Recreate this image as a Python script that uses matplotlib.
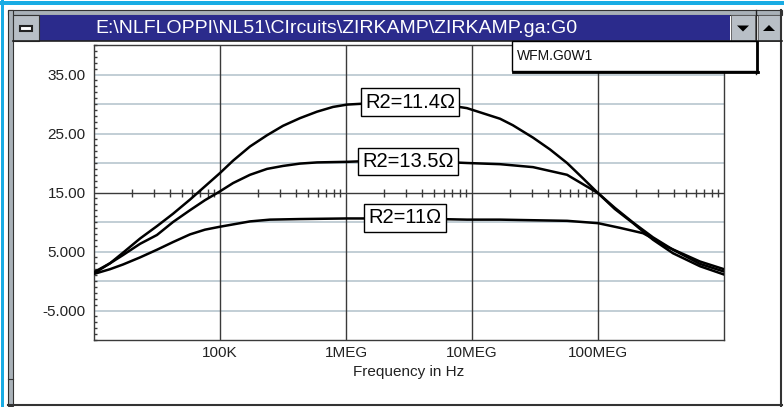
import numpy as np
import matplotlib
matplotlib.use("Agg")
import matplotlib.pyplot as plt
from matplotlib.patches import Rectangle, Polygon
from matplotlib.ticker import FixedLocator, MultipleLocator, NullLocator, FixedFormatter

plt.rcParams['font.family'] = ['Liberation Sans', 'DejaVu Sans']

# ---------------- data ----------------
freq_r2_11_4 = [1.00e4, 1.34e4, 1.70e4, 2.32e4, 3.16e4, 4.24e4, 5.78e4, 6.94e4,
                1.00e5, 1.27e5, 1.73e5, 2.36e5, 3.16e5, 4.31e5, 5.89e5, 7.88e5,
                1.02e6, 1.79e6, 3.16e6, 5.57e6, 9.12e6, 1.67e7, 2.11e7, 3.05e7,
                4.16e7, 5.68e7, 7.60e7, 1.00e8, 1.36e8, 1.90e8, 2.73e8, 3.94e8,
                6.45e8, 1.00e9]
gain_r2_11_4 = [1.3, 3.0, 4.8, 7.2, 9.3, 11.4, 13.8, 15.3,
                18.3, 20.4, 22.8, 24.7, 26.3, 27.6, 28.7, 29.5,
                29.9, 30.2, 30.3, 30.0, 29.3, 27.5, 26.4, 24.3,
                22.3, 20.0, 17.4, 14.9, 12.2, 9.8, 7.0, 4.7,
                2.5, 1.1]

freq_r2_13_5 = [1.00e4, 1.34e4, 1.70e4, 2.32e4, 3.16e4, 4.24e4, 5.78e4, 7.60e4,
                1.00e5, 1.27e5, 1.73e5, 2.36e5, 3.16e5, 4.31e5, 5.89e5, 1.02e6,
                1.79e6, 3.16e6, 5.57e6, 9.12e6, 1.67e7, 3.05e7, 5.68e7, 8.18e7,
                1.00e8, 1.36e8, 1.90e8, 2.73e8, 3.94e8, 6.45e8, 1.00e9]
gain_r2_13_5 = [1.5, 3.0, 4.4, 6.3, 7.8, 10.0, 12.0, 13.7,
                15.2, 16.6, 18.0, 19.0, 19.5, 19.9, 20.1, 20.2,
                20.4, 20.4, 20.2, 20.0, 19.8, 19.3, 18.0, 16.0,
                14.9, 12.4, 9.9, 7.4, 5.3, 2.9, 1.6]

freq_r2_11 = [1.00e4, 1.34e4, 1.70e4, 2.32e4, 3.16e4, 4.24e4, 5.78e4, 7.60e4,
              1.00e5, 1.73e5, 2.49e5, 4.31e5, 1.02e6, 3.16e6, 9.12e6, 1.67e7,
              3.05e7, 5.68e7, 1.00e8, 1.50e8, 2.28e8, 2.83e8, 3.53e8, 6.45e8,
              1.00e9]
gain_r2_11 = [1.2, 2.0, 2.8, 4.0, 5.3, 6.6, 7.9, 8.7,
              9.2, 10.1, 10.4, 10.5, 10.6, 10.6, 10.4, 10.4,
              10.3, 10.2, 9.8, 9.0, 8.1, 7.0, 5.8, 3.3,
              2.0]

curve_labels = ["R2=11.4\u03a9", "R2=13.5\u03a9", "R2=11\u03a9"]

x_tick_values = [1e5, 1e6, 1e7, 1e8]
x_tick_labels = ["100K", "1MEG", "10MEG", "100MEG"]
y_tick_values = [-5, 5, 15, 25, 35]
y_tick_labels = ["-5.000", "5.000", "15.00", "25.00", "35.00"]
x_label = "Frequency in Hz"
window_title = "E:\\NLFLOPPI\\NL51\\CIrcuits\\ZIRKAMP\\ZIRKAMP.ga:G0"
dropdown_text = "WFM.G0W1"

# ---------------- figure ----------------
W, H = 784, 407
fig = plt.figure(figsize=(W / 100, H / 100), dpi=100)
fig.patch.set_facecolor("white")

ax = fig.add_axes([94 / W, (H - 340) / H, 630 / W, 295 / H])
ax.set_xscale("log")
ax.set_xlim(1e4, 1e9)
ax.set_ylim(-10, 40)

grid_light = "#B8C6CE"
dark = "#3A3A3A"

# horizontal light gridlines every 5 (15 is the dark axis line)
for gy in np.arange(-5, 40, 5):
    if gy == 15:
        continue
    ax.axhline(gy, color=grid_light, lw=1.2, zorder=1)
# vertical decade lines
for gx in x_tick_values:
    ax.axvline(gx, color=dark, lw=1.0, zorder=1)
# dark horizontal line at 15 with log minor ticks
ax.axhline(15, color=dark, lw=1.0, zorder=1.5)
minor_x = [k * 10.0 ** d for d in range(4, 9) for k in range(2, 10)]
ax.plot(minor_x, [15] * len(minor_x), linestyle="none", marker="|",
        markersize=5.5, markeredgewidth=1.0, color=dark, zorder=1.5)

# curves
for xs, ys in ((freq_r2_11_4, gain_r2_11_4), (freq_r2_13_5, gain_r2_13_5),
               (freq_r2_11, gain_r2_11)):
    ax.plot(xs, ys, color="black", lw=1.8, zorder=3,
            solid_joinstyle="round")

# labels
label_pos = [(3.22e6, 30.3), (3.09e6, 20.25), (2.94e6, 10.7)]
for (lx, ly), txt in zip(label_pos, curve_labels):
    ax.text(lx, ly, txt, fontsize=14.5, ha="center", va="center", zorder=5,
            bbox=dict(boxstyle="square,pad=0.22", facecolor="white",
                      edgecolor="black", linewidth=1.0))

# ticks
ax.xaxis.set_major_locator(FixedLocator(x_tick_values))
ax.xaxis.set_major_formatter(FixedFormatter(x_tick_labels))
ax.xaxis.set_minor_locator(NullLocator())
ax.yaxis.set_major_locator(FixedLocator(y_tick_values))
ax.yaxis.set_major_formatter(FixedFormatter(y_tick_labels))
ax.yaxis.set_minor_locator(MultipleLocator(1))
ax.tick_params(axis="x", which="major", length=0, pad=4, labelsize=11,
               labelcolor="#222222")
ax.tick_params(axis="y", which="major", length=0, pad=6, labelsize=11,
               labelcolor="#222222")
ax.tick_params(axis="y", which="minor", direction="in", length=2, width=1.0,
               color=dark)
for s in ax.spines.values():
    s.set_color(dark)
    s.set_linewidth(1.0)

fig.text(409 / W, 1 - 372 / H, x_label, fontsize=11, ha="center",
         va="center", color="#222222")

# ---------------- window chrome ----------------
ov = fig.add_axes([0, 0, 1, 1], zorder=10)
ov.set_xlim(0, W)
ov.set_ylim(H, 0)
ov.axis("off")
ov.patch.set_alpha(0)


def rect(x, y, w, h, fc, ec="none", lw=0.0, z=1):
    ov.add_patch(Rectangle((x, y), w, h, facecolor=fc, edgecolor=ec,
                           linewidth=lw, zorder=z))


cyan = "#19ACE4"
frame_gray = "#A9B1B8"
btn_gray = "#B8BFC6"
navy = "#2B2B8C"

# outer cyan border
rect(0, 0.5, W, 4, cyan)
rect(0.5, 0, 4, H, cyan)
# window frame
rect(8, 10, 774, 5, frame_gray, ec="#333333", lw=0.8)
rect(8, 10, 5, 396, frame_gray, ec="#333333", lw=0.8)
ov.plot([8, 782], [405, 405], color="#333333", lw=1.5)
ov.plot([781.5, 781.5], [10, 406], color="#333333", lw=1.5)
ov.plot([8, 13], [379, 379], color="#333333", lw=0.8)
# title bar
rect(39, 15, 691, 26, navy)
ov.plot([13, 782], [41, 41], color="#222222", lw=1.2)
ov.text(336, 28.5, window_title, color="white", fontsize=14,
        ha="center", va="center")
# system menu box
rect(13, 15, 26, 26, btn_gray, ec="#333333", lw=0.8)
rect(20, 25.5, 12, 5, "white", ec="#222222", lw=1.5, z=2)
# scroll buttons
rect(731, 15, 24, 26, btn_gray, ec="#555555", lw=0.6)
rect(758, 15, 23, 26, btn_gray, ec="#555555", lw=0.6)
ov.plot([756.5, 756.5], [10, 74], color="#222222", lw=1.0)
ov.add_patch(Polygon([[737, 25.5], [749, 25.5], [743, 31.5]], closed=True,
                     facecolor="black", edgecolor="none", zorder=3))
ov.add_patch(Polygon([[763, 31], [775, 31], [769, 25]], closed=True,
                     facecolor="black", edgecolor="none", zorder=3))
# dropdown box
rect(512, 41, 245, 30, "white", ec="black", lw=1.0, z=4)
ov.plot([757, 757], [42, 72], color="black", lw=2.0, zorder=5)
ov.plot([513, 758], [71.5, 71.5], color="black", lw=2.0, zorder=5)
ov.text(517, 56, dropdown_text, fontsize=10, ha="left", va="center",
        color="#111111", zorder=6)

fig.savefig("out.png", dpi=100, facecolor="white")
